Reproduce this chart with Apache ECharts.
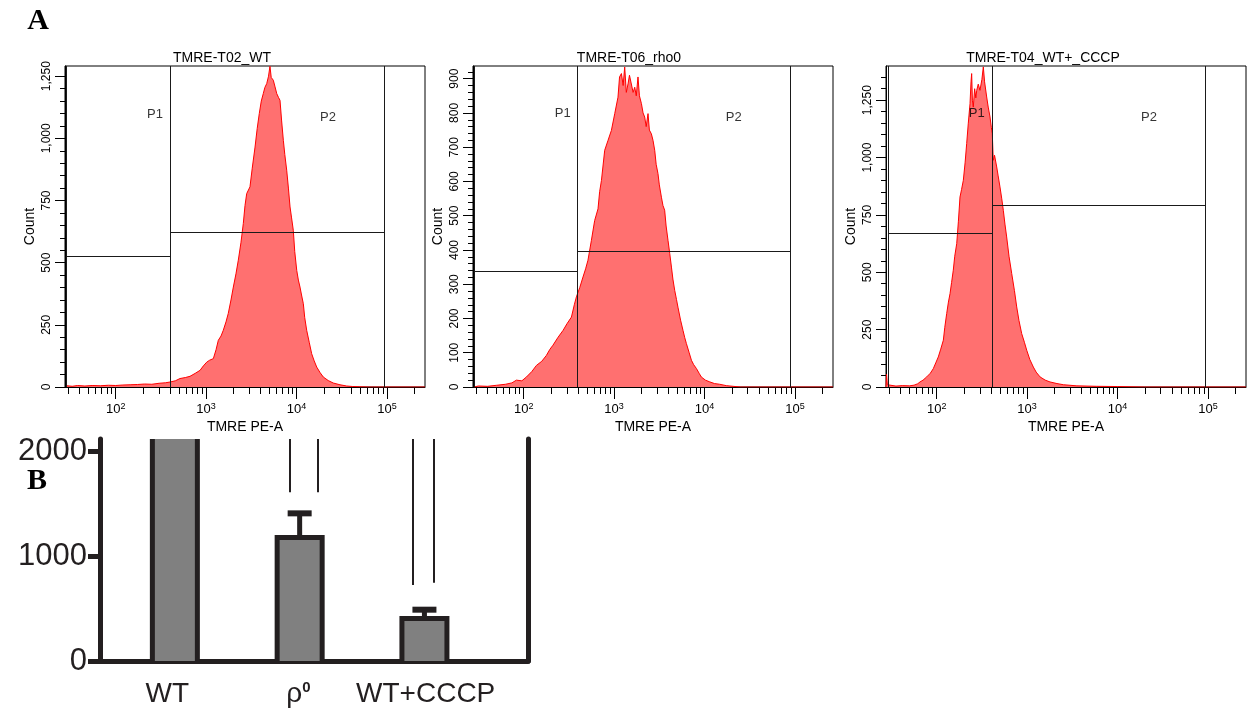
<!DOCTYPE html>
<html>
<head>
<meta charset="utf-8">
<script src="https://cdn.jsdelivr.net/npm/echarts@6/dist/echarts.min.js"></script>
<style>
  html, body { margin: 0; padding: 0; background: #fff; }
  #chart { width: 1248px; height: 711px; }
</style>
</head>
<body>
<div id="chart"></div>
<script>
// ---- panel A: TMRE histograms (x = log10 TMRE PE-A, y = count) ----
const histTitles = ['TMRE-T02_WT', 'TMRE-T06_rho0', 'TMRE-T04_WT+_CCCP'];

const wtHist = [[1.46,5],[1.52,3],[1.58,6],[1.66,4],[1.74,6],[1.83,5],[1.92,7],[2.0,6],[2.08,8],[2.16,9],[2.24,10],[2.32,12],[2.40,11],[2.48,15],[2.55,17],[2.601,20],[2.66,25],[2.711,34],[2.77,38],[2.822,43],[2.88,55],[2.933,67],[2.97,85],[3.007,100],[3.04,108],[3.08,114],[3.11,150],[3.135,188],[3.165,205],[3.19,228],[3.22,262],[3.245,296],[3.275,350],[3.301,402],[3.33,455],[3.356,510],[3.385,580],[3.411,657],[3.43,730],[3.449,778],[3.485,805],[3.51,880],[3.541,965],[3.565,1040],[3.588,1100],[3.61,1150],[3.632,1180],[3.65,1205],[3.67,1220],[3.69,1250],[3.706,1290],[3.72,1245],[3.743,1234],[3.76,1210],[3.781,1180],[3.80,1165],[3.817,1153],[3.835,1070],[3.854,992],[3.87,935],[3.891,872],[3.91,800],[3.928,724],[3.945,680],[3.964,630],[3.98,545],[4.002,469],[4.02,430],[4.038,402],[4.055,370],[4.075,335],[4.09,280],[4.112,228],[4.14,180],[4.167,134],[4.195,105],[4.223,80],[4.26,58],[4.296,40],[4.35,26],[4.406,16],[4.48,9],[4.554,4],[4.62,2],[4.70,1],[4.80,0],[5.42,0]];

const rhoHist = [[1.45,0],[1.50,3],[1.60,2],[1.70,5],[1.80,8],[1.87,12],[1.92,20],[1.98,18],[2.03,29],[2.09,45],[2.141,63],[2.20,75],[2.251,92],[2.29,110],[2.324,122],[2.38,145],[2.435,165],[2.48,185],[2.528,204],[2.56,240],[2.583,263],[2.62,290],[2.656,321],[2.685,345],[2.711,370],[2.749,428],[2.785,486],[2.822,520],[2.84,570],[2.86,603],[2.896,691],[2.933,720],[2.97,749],[3.007,798],[3.043,846],[3.06,905],[3.081,915],[3.10,880],[3.117,934],[3.135,860],[3.154,885],[3.17,910],[3.191,905],[3.21,860],[3.228,875],[3.245,850],[3.264,905],[3.28,850],[3.302,827],[3.32,800],[3.338,788],[3.355,760],[3.375,798],[3.39,750],[3.412,739],[3.43,720],[3.449,691],[3.465,650],[3.485,623],[3.50,590],[3.523,554],[3.54,530],[3.559,516],[3.575,470],[3.596,428],[3.615,390],[3.634,350],[3.65,315],[3.67,282],[3.69,255],[3.706,233],[3.735,195],[3.762,165],[3.78,145],[3.799,127],[3.83,100],[3.855,78],[3.88,65],[3.91,54],[3.94,40],[3.965,29],[4.01,20],[4.057,15],[4.11,10],[4.167,8],[4.24,4],[4.315,2],[4.40,0],[5.42,0]];

const cccpHist = [[1.44,0],[1.446,55],[1.455,10],[1.47,3],[1.55,4],[1.62,6],[1.70,5],[1.75,8],[1.79,14],[1.816,22],[1.85,30],[1.89,44],[1.93,60],[1.963,80],[1.99,105],[2.018,131],[2.045,165],[2.074,204],[2.09,260],[2.111,320],[2.13,370],[2.148,407],[2.165,455],[2.184,509],[2.20,570],[2.222,625],[2.24,720],[2.258,828],[2.275,860],[2.295,901],[2.315,980],[2.332,1061],[2.35,1150],[2.369,1235],[2.38,1330],[2.387,1366],[2.395,1250],[2.405,1220],[2.42,1300],[2.433,1260],[2.443,1293],[2.46,1320],[2.479,1293],[2.50,1340],[2.516,1395],[2.53,1330],[2.553,1264],[2.57,1220],[2.59,1177],[2.605,1130],[2.615,1105],[2.626,988],[2.64,1010],[2.664,959],[2.68,920],[2.70,872],[2.72,820],[2.737,770],[2.755,710],[2.774,654],[2.80,570],[2.83,494],[2.86,420],[2.885,349],[2.91,290],[2.94,233],[2.97,195],[2.996,160],[3.03,120],[3.069,87],[3.10,65],[3.143,44],[3.20,30],[3.253,22],[3.33,15],[3.40,10],[3.55,5],[3.769,3],[4.0,2],[4.138,1],[4.3,0],[5.42,0]];

// gates: [P1 left, P1|P2 border, P2 right] and [P1 level, P2 level]
const gateX = [[1.457, 2.601, 4.967], [1.45, 2.598, 4.945], [1.462, 2.612, 4.975]];
const gateY = [[527, 621], [337, 396], [671, 791]];
const gateNames = ['P1', 'P2'];

const countTicks = [
  [0, 250, 500, 750, 1000, 1250],
  [0, 100, 200, 300, 400, 500, 600, 700, 800, 900],
  [0, 250, 500, 750, 1000, 1250]
];
const countMinorStep = [50, 20, 50];
const countMax = [1291, 937, 1399];
const decadeTicks = [2, 3, 4, 5];
const logMin = 1.44, logMax = 5.42;

// ---- panel B: mean TMRE fluorescence ----
const groups = ['WT', 'ρ0', 'WT+CCCP'];
const meanTmre = [3200, 1180, 405];
const semTmre = [300, 230, 85];
const barTicks = [0, 1000, 2000];
const bracketX = [[1.918, 2.143], [2.906, 3.075]];
const bracketLow = [[1611, 1611], [726, 748]];

// ---- layout ----
const histLeft = [65, 473, 886];
const histTitleX = [222, 629, 1043];
const gateLabelAt = [[[2.435, 1097], [4.348, 1085]], [[2.432, 800], [4.322, 787]], [[2.443, 1194], [4.348, 1176]]];
const barLabelAt = [0.94, 1.99, 3.01];
const FONT = '"Liberation Sans", Arial, sans-serif';
const INK = '#231f20';
const BAR_W = 45;

// log minor ticks 2..9 per decade
const minorLogTicks = [];
for (let d = 1; d <= 5; d++) {
  for (let k = 2; k <= 9; k++) {
    const v = Math.log10(k * Math.pow(10, d));
    if (v > logMin && v < logMax) minorLogTicks.push(v);
  }
}
const stepTicks = (max, step) => {
  const out = [];
  for (let v = 0; v <= max; v += step) out.push(v);
  return out;
};

const hists = [wtHist, rhoHist, cccpHist];
const grids = [], xAxes = [], yAxes = [], series = [], graphics = [];

hists.forEach((h, i) => {
  grids.push({
    left: histLeft[i], top: 66, width: 360, height: 321,
    show: true, borderColor: '#000', borderWidth: 1, backgroundColor: 'transparent'
  });
  // major x axis (decades + label)
  xAxes.push({
    gridIndex: i, type: 'value', position: 'bottom', min: logMin, max: logMax,
    name: 'TMRE PE-A', nameLocation: 'middle', nameGap: 33,
    nameTextStyle: { fontFamily: FONT, fontSize: 14, color: '#000' },
    axisLine: { show: true, lineStyle: { color: '#000', width: 1 } },
    axisTick: { show: true, customValues: decadeTicks, length: 12, lineStyle: { color: '#000' } },
    axisLabel: {
      customValues: decadeTicks, margin: 15, color: '#000',
      formatter: v => '{b|10}{s|' + v + '}',
      rich: {
        b: { fontFamily: FONT, fontSize: 13, color: '#000' },
        s: { fontFamily: FONT, fontSize: 9, color: '#000', verticalAlign: 'top', padding: [0, 0, 6, 0] }
      }
    },
    splitLine: { show: false }
  });
  // minor x ticks
  xAxes.push({
    gridIndex: i, type: 'value', position: 'bottom', min: logMin, max: logMax,
    axisLine: { show: false },
    axisTick: { show: true, customValues: minorLogTicks, length: 7, lineStyle: { color: '#000' } },
    axisLabel: { show: false }, splitLine: { show: false }
  });
  yAxes.push({
    gridIndex: i, type: 'value', position: 'left', min: 0, max: countMax[i],
    name: 'Count', nameLocation: 'middle', nameGap: 28, nameRotate: 90,
    nameTextStyle: { fontFamily: FONT, fontSize: 14, color: '#000' },
    axisLine: { show: true, lineStyle: { color: '#000', width: 1 } },
    axisTick: { show: true, customValues: countTicks[i], length: 10, lineStyle: { color: '#000' } },
    axisLabel: {
      customValues: countTicks[i], rotate: 90, margin: 12, color: '#000',
      fontFamily: FONT, fontSize: 12,
      formatter: v => v.toLocaleString('en-US')
    },
    splitLine: { show: false }
  });
  yAxes.push({
    gridIndex: i, type: 'value', position: 'left', min: 0, max: countMax[i],
    axisLine: { show: false },
    axisTick: { show: true, customValues: stepTicks(countMax[i], countMinorStep[i]), length: 5, lineStyle: { color: '#000' } },
    axisLabel: { show: false }, splitLine: { show: false }
  });

  series.push({
    type: 'line', xAxisIndex: 2 * i, yAxisIndex: 2 * i, data: h,
    symbol: 'none', z: 2,
    lineStyle: { color: '#ff0000', width: 1 },
    areaStyle: { color: '#ff7070', opacity: 1 }
  });

  const gx = gateX[i], gy = gateY[i], top = countMax[i];
  series.push({
    type: 'lines', coordinateSystem: 'cartesian2d', xAxisIndex: 2 * i, yAxisIndex: 2 * i, z: 4,
    lineStyle: { color: '#1a1a1a', width: 1, opacity: 1 },
    data: [
      { coords: [[gx[0], 0], [gx[0], top]] },
      { coords: [[gx[1], 0], [gx[1], top]] },
      { coords: [[gx[2], 0], [gx[2], top]] },
      { coords: [[gx[0], gy[0]], [gx[1], gy[0]]] },
      { coords: [[gx[1], gy[1]], [gx[2], gy[1]]] }
    ]
  });
  series.push({
    type: 'scatter', xAxisIndex: 2 * i, yAxisIndex: 2 * i, z: 5, symbolSize: 0,
    data: gateLabelAt[i].map((p, k) => ({ value: p, name: gateNames[k] })),
    label: { show: true, position: 'inside', formatter: p => p.name, color: '#000', fontFamily: FONT, fontSize: 13 }
  });

  graphics.push({
    type: 'text', x: histTitleX[i], y: 58,
    style: { text: histTitles[i], fill: '#000', fontFamily: FONT, fontSize: 14, align: 'center', verticalAlign: 'middle' }
  });
});

// panel B grid (index 3)
grids.push({ left: 100, right: 720, top: 439, bottom: 50 });
xAxes.push({
  gridIndex: 3, type: 'value', min: 0.4, max: 3.83,
  axisLine: { show: true, onZero: false, lineStyle: { color: INK, width: 5 } },
  axisTick: { show: false },
  axisLabel: {
    customValues: barLabelAt, margin: 19,
    formatter: v => {
      const g = groups[barLabelAt.indexOf(v)];
      return g === 'ρ0' ? '{n|ρ}{s|0}' : '{n|' + g + '}';
    },
    rich: {
      n: { fontFamily: FONT, fontSize: 28, color: INK },
      s: { fontFamily: FONT, fontSize: 15, fontWeight: 'bold', color: INK, verticalAlign: 'top', padding: [0, 0, 12, 0] }
    }
  },
  splitLine: { show: false }
});
yAxes.push({
  gridIndex: 3, type: 'value', position: 'left', min: 0, max: 2120,
  axisLine: { show: true, lineStyle: { color: INK, width: 5 } },
  axisTick: { show: true, customValues: barTicks, length: 12, lineStyle: { color: INK, width: 5 } },
  axisLabel: { customValues: barTicks, margin: 13, fontFamily: FONT, fontSize: 31, color: INK, formatter: v => String(v) },
  splitLine: { show: false }
});
yAxes.push({
  gridIndex: 3, type: 'value', position: 'right', min: 0, max: 2120,
  axisLine: { show: true, lineStyle: { color: INK, width: 5 } },
  axisTick: { show: false }, axisLabel: { show: false }, splitLine: { show: false }
});

series.push({
  type: 'custom', xAxisIndex: 6, yAxisIndex: 6, z: 3,
  data: meanTmre.map((m, k) => [k + 1, m, semTmre[k]]),
  renderItem: (params, api) => {
    const cs = params.coordSys;
    const x = api.value(0), v = api.value(1), e = api.value(2);
    const base = api.coord([x, 0]);
    const head = api.coord([x, v]);
    const errTop = api.coord([x, v + e]);
    const half = BAR_W / 2;
    const topY = Math.max(head[1], cs.y);
    const cx = base[0];
    const kids = [];
    const stroke = { stroke: INK, lineWidth: 5, fill: null };
    if (head[1] > cs.y) {
      const capY = Math.max(errTop[1], cs.y);
      kids.push({ type: 'line', shape: { x1: cx, y1: head[1], x2: cx, y2: capY }, style: { stroke: INK, lineWidth: 5 } });
      if (errTop[1] >= cs.y) {
        kids.push({ type: 'line', shape: { x1: cx - 12, y1: capY, x2: cx + 12, y2: capY }, style: { stroke: INK, lineWidth: 6 } });
      }
    }
    kids.push({ type: 'rect', shape: { x: cx - half, y: topY, width: BAR_W, height: base[1] - topY }, style: { fill: '#808080' } });
    if (head[1] > cs.y) {
      kids.push({ type: 'polyline', shape: { points: [[cx - half, base[1]], [cx - half, topY], [cx + half, topY], [cx + half, base[1]]] }, style: stroke });
    } else {
      kids.push({ type: 'line', shape: { x1: cx - half, y1: base[1], x2: cx - half, y2: topY }, style: stroke });
      kids.push({ type: 'line', shape: { x1: cx + half, y1: base[1], x2: cx + half, y2: topY }, style: stroke });
    }
    return { type: 'group', children: kids };
  }
});

series.push({
  type: 'lines', coordinateSystem: 'cartesian2d', xAxisIndex: 6, yAxisIndex: 6, z: 3,
  lineStyle: { color: INK, width: 2, opacity: 1 },
  data: bracketX.flatMap((pair, k) => pair.map((bx, j) => ({ coords: [[bx, bracketLow[k][j]], [bx, 2120]] })))
});

graphics.push({
  type: 'text', x: 38, y: 21,
  style: { text: 'A', fill: '#000', fontFamily: '"Liberation Serif", "Times New Roman", serif', fontWeight: 'bold', fontSize: 30, align: 'center', verticalAlign: 'middle' }
});
graphics.push({
  type: 'text', x: 37, y: 481,
  style: { text: 'B', fill: '#000', fontFamily: '"Liberation Serif", "Times New Roman", serif', fontWeight: 'bold', fontSize: 30, align: 'center', verticalAlign: 'middle' }
});

const chart = echarts.init(document.getElementById('chart'));
chart.setOption({
  backgroundColor: '#fff',
  animation: false,
  grid: grids,
  xAxis: xAxes,
  yAxis: yAxes,
  series: series,
  graphic: graphics
});
</script>
</body>
</html>
